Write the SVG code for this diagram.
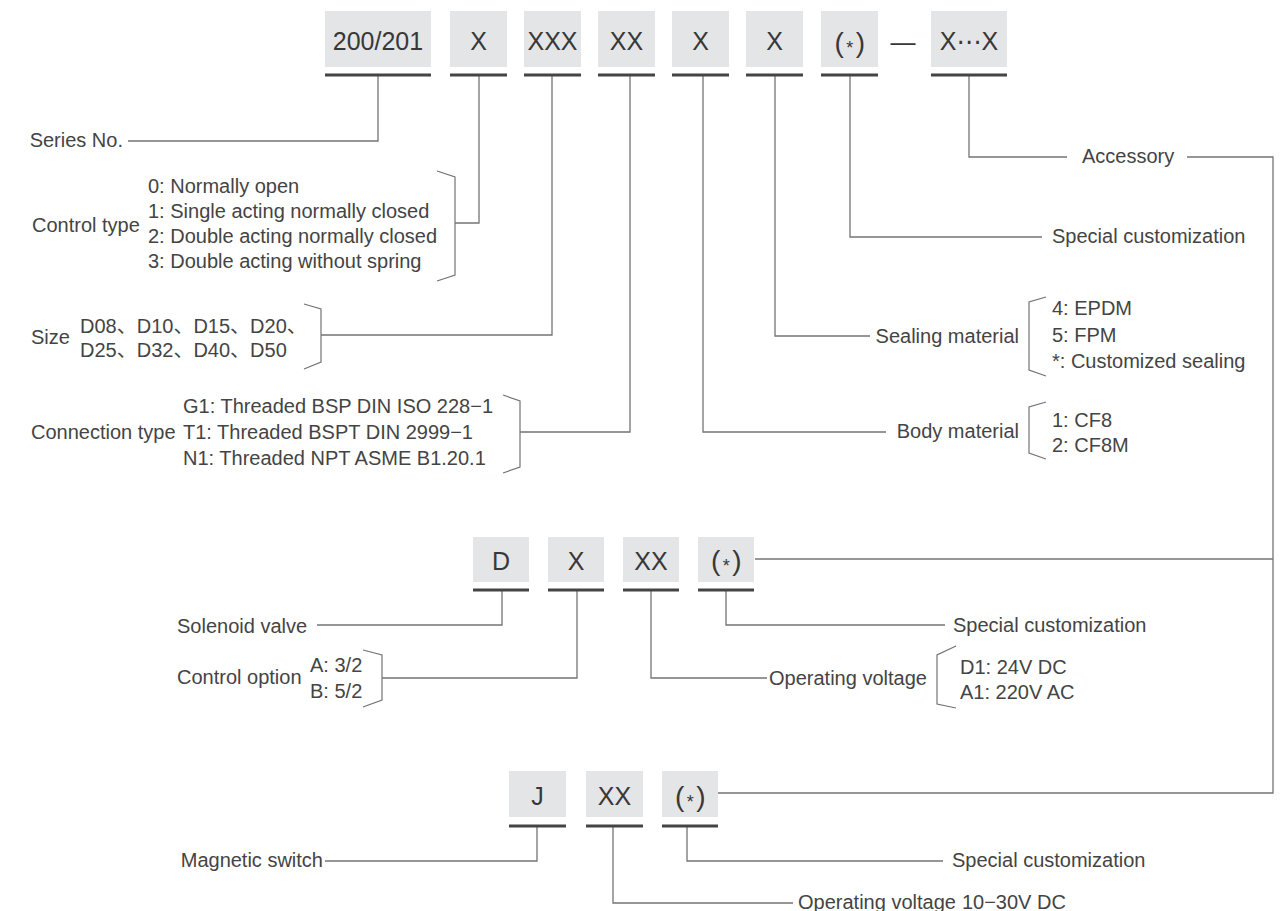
<svg xmlns="http://www.w3.org/2000/svg" width="1282" height="911" viewBox="0 0 1282 911">
<style>
.t{font-family:"Liberation Sans","Noto Sans CJK SC",sans-serif;font-size:20px;fill:#444}
.c{font-family:"Liberation Sans","DejaVu Sans",sans-serif;font-size:25px;fill:#383838;text-anchor:middle}
.p{font-size:28px;letter-spacing:2.5px}
.e{text-anchor:end}
.box{fill:#e4e5e6}
.ul{stroke:#444;stroke-width:3}
.ln{fill:none;stroke:#747474;stroke-width:1.3}
.br{fill:none;stroke:#747474;stroke-width:1.2}
.ast{font-size:18px}
</style>
<rect width="1282" height="911" fill="#fff"/>

<g id="connectors">
<path class="ln" d="M378,76V141H128"/>
<path class="ln" d="M479,76V223H455"/>
<path class="ln" d="M552,76V335H321"/>
<path class="ln" d="M630,76V432H520"/>
<path class="ln" d="M703,76V432H886"/>
<path class="ln" d="M775,76V336H870"/>
<path class="ln" d="M850,76V237H1042"/>
<path class="ln" d="M969,76V157H1067"/>
<path class="ln" d="M1187,157H1273V793H718"/>
<path class="ln" d="M755,559H1273"/>
<path class="ln" d="M502,591V625H317"/>
<path class="ln" d="M577,591V678H382"/>
<path class="ln" d="M651,591V678H767"/>
<path class="ln" d="M726,591V625H945"/>
<path class="ln" d="M537,827V861H325"/>
<path class="ln" d="M687,827V861H943"/>
<path class="ln" d="M613,827V903H793"/>
</g>

<g id="code-series"><rect class="box" x="325" y="11" width="106" height="56"/><line class="ul" x1="325" y1="75" x2="431" y2="75"/><text class="c" x="378" y="50">200/201</text></g>
<g id="code-control"><rect class="box" x="450" y="11" width="57" height="56"/><line class="ul" x1="450" y1="75" x2="507" y2="75"/><text class="c" x="478.5" y="50">X</text></g>
<g id="code-size"><rect class="box" x="524" y="11" width="57" height="56"/><line class="ul" x1="524" y1="75" x2="581" y2="75"/><text class="c" x="552.5" y="50">XXX</text></g>
<g id="code-connection"><rect class="box" x="598" y="11" width="57" height="56"/><line class="ul" x1="598" y1="75" x2="655" y2="75"/><text class="c" x="626.5" y="50">XX</text></g>
<g id="code-body"><rect class="box" x="672" y="11" width="57" height="56"/><line class="ul" x1="672" y1="75" x2="729" y2="75"/><text class="c" x="700.5" y="50">X</text></g>
<g id="code-sealing"><rect class="box" x="746" y="11" width="57" height="56"/><line class="ul" x1="746" y1="75" x2="803" y2="75"/><text class="c" x="774.5" y="50">X</text></g>
<g id="code-special"><rect class="box" x="821" y="11" width="57" height="56"/><line class="ul" x1="821" y1="75" x2="878" y2="75"/><text class="c p" x="851" y="52">(<tspan class="ast" dy="1.5">*</tspan><tspan dy="-1.5">)</tspan></text></g>
<g id="dash"><text class="c" x="903" y="51" font-size="29">—</text></g>
<g id="code-accessory"><rect class="box" x="931" y="11" width="76" height="56"/><line class="ul" x1="931" y1="75" x2="1007" y2="75"/><text class="c" x="969" y="50">X⋯X</text></g>

<g id="label-series"><text class="t e" x="123" y="147">Series No.</text></g>
<g id="label-control">
<text class="t" x="32" y="232">Control type</text>
<text class="t" x="148" y="193">0: Normally open</text>
<text class="t" x="148" y="218">1: Single acting normally closed</text>
<text class="t" x="148" y="243">2: Double acting normally closed</text>
<text class="t" x="148" y="268">3: Double acting without spring</text>
<polyline class="br" points="437,171 455,177 455,275 437,281"/>
</g>
<g id="label-size">
<text class="t" x="31" y="344">Size</text>
<text class="t" x="80" y="333">D08、D10、D15、D20、</text>
<text class="t" x="80" y="357">D25、D32、D40、D50</text>
<polyline class="br" points="304,304 321,309 321,362 304,369"/>
</g>
<g id="label-connection">
<text class="t" x="31" y="439">Connection type</text>
<text class="t" x="183" y="413">G1: Threaded BSP DIN ISO 228−1</text>
<text class="t" x="183" y="439">T1: Threaded BSPT DIN 2999−1</text>
<text class="t" x="183" y="465">N1: Threaded NPT ASME B1.20.1</text>
<polyline class="br" points="503,395 520,401 520,467 503,473"/>
</g>
<g id="label-sealing">
<text class="t e" x="1019" y="343">Sealing material</text>
<polyline class="br" points="1046,297 1029,302 1029,370 1046,376"/>
<text class="t" x="1052" y="315">4: EPDM</text>
<text class="t" x="1052" y="342">5: FPM</text>
<text class="t" x="1052" y="368">*:  Customized sealing</text>
</g>
<g id="label-body">
<text class="t e" x="1019" y="438">Body material</text>
<polyline class="br" points="1046,402 1029,407 1029,453 1046,459"/>
<text class="t" x="1052" y="427">1: CF8</text>
<text class="t" x="1052" y="452">2: CF8M</text>
</g>
<g id="label-special"><text class="t" x="1052" y="243">Special customization</text></g>
<g id="label-accessory"><text class="t" x="1082" y="163">Accessory</text></g>

<g id="sol-d"><rect class="box" x="473" y="537" width="56" height="45"/><line class="ul" x1="473" y1="590" x2="529" y2="590"/><text class="c" x="501" y="570">D</text></g>
<g id="sol-x"><rect class="box" x="548" y="537" width="56" height="45"/><line class="ul" x1="548" y1="590" x2="604" y2="590"/><text class="c" x="576" y="570">X</text></g>
<g id="sol-xx"><rect class="box" x="623" y="537" width="56" height="45"/><line class="ul" x1="623" y1="590" x2="679" y2="590"/><text class="c" x="651" y="570">XX</text></g>
<g id="sol-special"><rect class="box" x="698" y="537" width="56" height="45"/><line class="ul" x1="698" y1="590" x2="754" y2="590"/><text class="c p" x="727.5" y="570">(<tspan class="ast" dy="1.5">*</tspan><tspan dy="-1.5">)</tspan></text></g>

<g id="label-solenoid"><text class="t" x="177" y="633">Solenoid valve</text></g>
<g id="label-option">
<text class="t" x="177" y="684">Control option</text>
<text class="t" x="310" y="672">A: 3/2</text>
<text class="t" x="310" y="698">B: 5/2</text>
<polyline class="br" points="363,650 382,655 382,700 363,707"/>
</g>
<g id="label-sol-special"><text class="t" x="953" y="632">Special customization</text></g>
<g id="label-voltage">
<text class="t" x="769" y="685">Operating voltage</text>
<polyline class="br" points="956,646 937,655 937,704 956,708"/>
<text class="t" x="960" y="674">D1: 24V DC</text>
<text class="t" x="960" y="699">A1: 220V AC</text>
</g>

<g id="mag-j"><rect class="box" x="509" y="771" width="57" height="46"/><line class="ul" x1="509" y1="826" x2="566" y2="826"/><text class="c" x="537.5" y="805">J</text></g>
<g id="mag-xx"><rect class="box" x="586" y="771" width="57" height="46"/><line class="ul" x1="586" y1="826" x2="643" y2="826"/><text class="c" x="614.5" y="805">XX</text></g>
<g id="mag-special"><rect class="box" x="662" y="771" width="56" height="46"/><line class="ul" x1="662" y1="826" x2="718" y2="826"/><text class="c p" x="691.5" y="806">(<tspan class="ast" dy="1.5">*</tspan><tspan dy="-1.5">)</tspan></text></g>

<g id="label-magnetic"><text class="t e" x="323" y="867">Magnetic switch</text></g>
<g id="label-mag-special"><text class="t" x="952" y="867">Special customization</text></g>
<g id="label-mag-voltage"><text class="t" x="798" y="909">Operating voltage<tspan dx="6">10−30V DC</tspan></text></g>
</svg>
